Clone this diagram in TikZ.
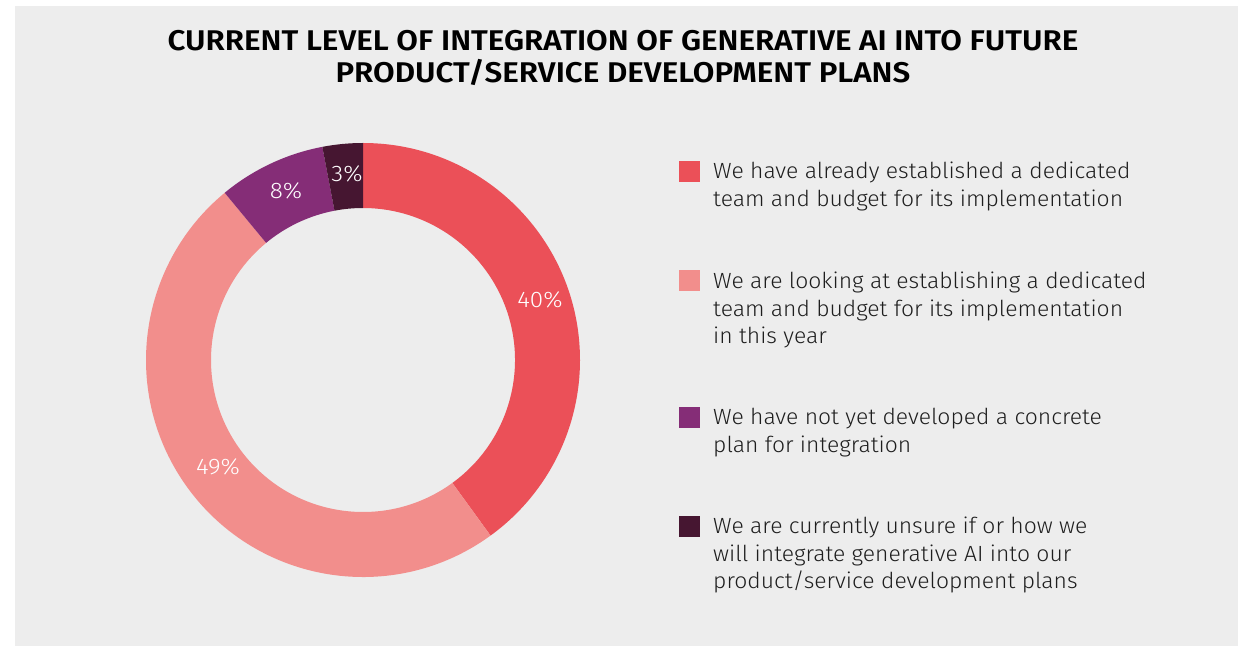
\documentclass[tikz,border=0pt]{standalone}
\usepackage{fontspec}
\setmainfont{Fira Sans}
\newfontfamily\lightfont{Fira Sans Light}[FakeStretch=1.04]
\newfontfamily\boldfont{Fira Sans SemiBold}[FakeStretch=1.1]
\newfontfamily\pctfont{Fira Sans Light}[FakeStretch=1.08]
\definecolor{bg}{HTML}{EDEDED}
\definecolor{cA}{HTML}{EB5058}
\definecolor{cB}{HTML}{F28E8C}
\definecolor{cC}{HTML}{852D77}
\definecolor{cD}{HTML}{461631}
\definecolor{txt}{HTML}{1E1E1E}
\newcommand\donutslice[3]{\fill[#3] ([shift={(#1:217)}]C) arc[start angle=#1,end angle=#2,radius=217pt] -- ([shift={(#2:152)}]C) arc[start angle=#2,end angle=#1,radius=152pt] -- cycle;}
\tikzset{
  pct/.style={text=white,font=\pctfont\fontsize{22.5}{26}\selectfont,inner sep=0pt},
  legtext/.style={anchor=north west,align=left,inner sep=0pt,text=txt,font=\lightfont\fontsize{22}{27.5}\selectfont},
  legbox/.style={minimum size=21pt,inner sep=0pt,anchor=north west},
  titlestyle/.style={align=center,text=black,font=\boldfont\fontsize{28.5}{32}\selectfont,inner sep=0pt}
}
\begin{document}
\begin{tikzpicture}[x=1pt,y=1pt]
\useasboundingbox (0,0) rectangle (1243,646);
\fill[white] (0,0) rectangle (1243,646);
\fill[bg] (15,0) rectangle (1238,640);
\coordinate (C) at (363,286);
\donutslice{90}{-54}{cA}
\donutslice{-54}{-230.4}{cB}
\donutslice{129.6}{100.8}{cC}
\donutslice{100.8}{90}{cD}
\node[pct] (p40) at (540,346) {40\%};
\node[pct] (p49) at (218,179) {49\%};
\node[pct] (p8) at (286,455) {8\%};
\node[pct] (p3) at (347,472) {3\%};
\node[titlestyle] (title) at (623,588) {CURRENT LEVEL OF INTEGRATION OF GENERATIVE AI INTO FUTURE\\PRODUCT/SERVICE DEVELOPMENT PLANS};
\node[legbox,fill=cA] (b1) at (679,485) {};
\node[legbox,fill=cB] (b2) at (679,376) {};
\node[legbox,fill=cC] (b3) at (679,239) {};
\node[legbox,fill=cD] (b4) at (679,130) {};
\node[legtext] (t1) at (713,484) {We have already established a dedicated\\team and budget for its implementation};
\node[legtext] (t2) at (713,374) {We are looking at establishing a dedicated\\team and budget for its implementation\\in this year};
\node[legtext] (t3) at (713,238) {We have not yet developed a concrete\\plan for integration};
\node[legtext] (t4) at (713,129) {We are currently unsure if or how we\\will integrate generative AI into our\\product/service development plans};
\end{tikzpicture}
\end{document}
